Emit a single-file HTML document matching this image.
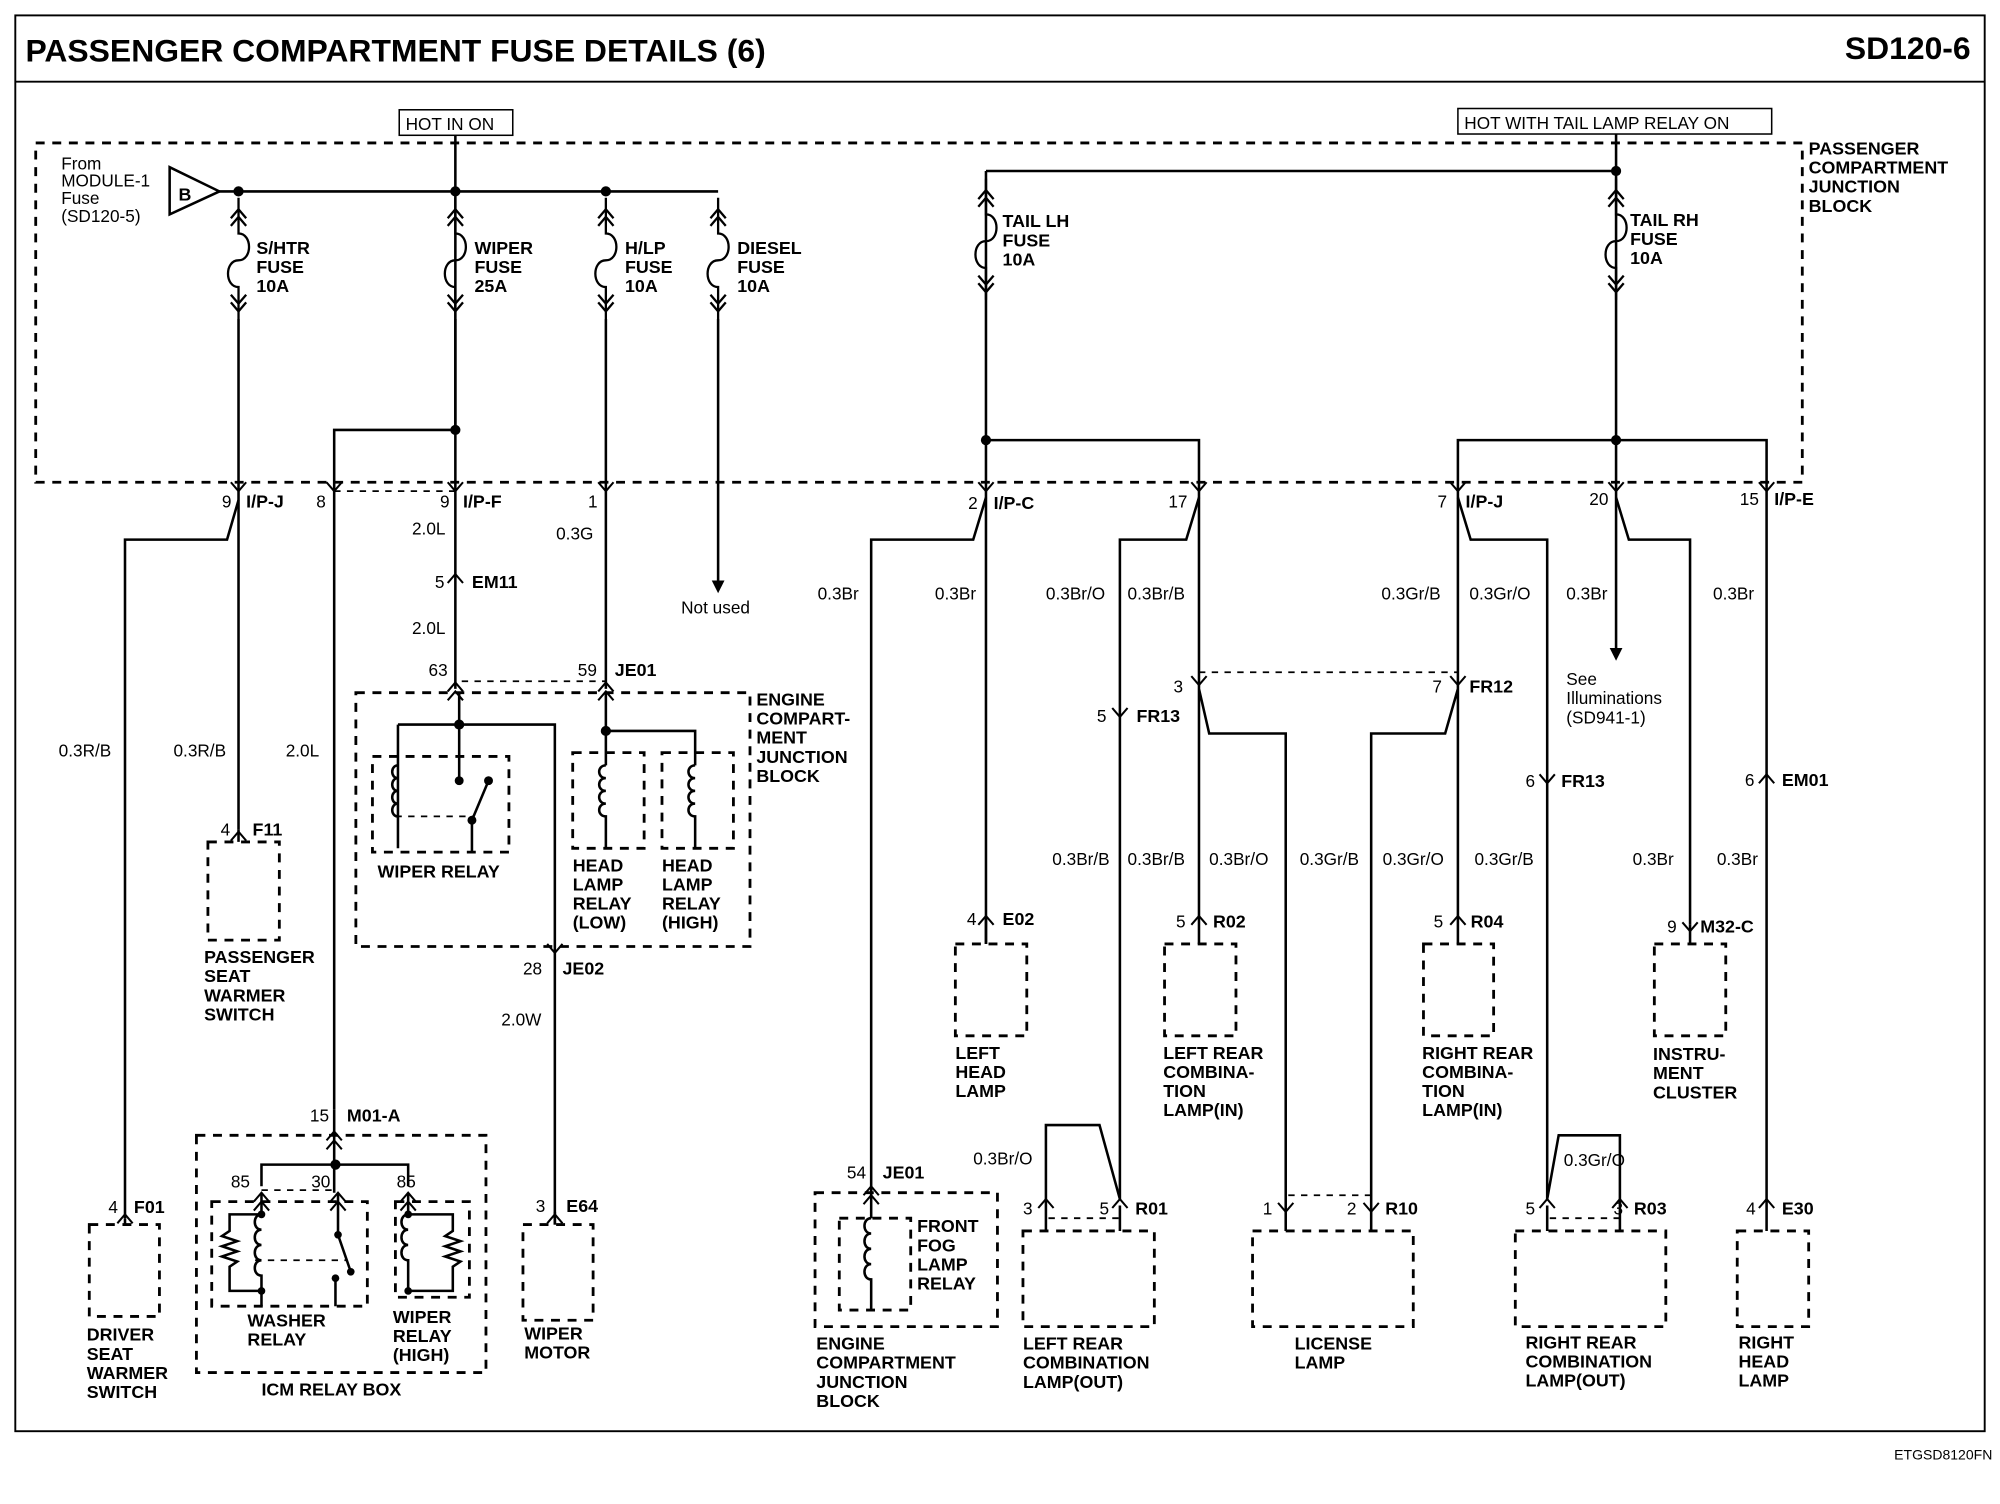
<!DOCTYPE html>
<html><head><meta charset="utf-8"><style>
html,body{margin:0;padding:0;background:#fff}
svg{display:block}
text{font-family:"Liberation Sans",Arial,sans-serif;fill:#000}
.b{font-weight:bold;font-size:14px}
.n{font-size:13.5px}
.t{font-weight:bold;font-size:25px}
</style></head><body>
<svg width="2000" height="1504" viewBox="0 0 1568 1179" xmlns="http://www.w3.org/2000/svg">
<defs>
<path id="cd" d="M-6,-7 L0,0 L6,-7" fill="none" stroke="#000" stroke-width="1.6"/>
<path id="cu" d="M-6,7 L0,0 L6,7" fill="none" stroke="#000" stroke-width="1.6"/>
<g id="fuse" fill="none" stroke="#000" stroke-width="1.8">
<path d="M0,0 V28 C11,28 11,49 0,49 C-11,49 -11,70 0,70 V95"/>
<path d="M-6,16 L0,9 L6,16 M-6,22 L0,15 L6,22 M-6,76 L0,83 L6,76 M-6,82 L0,89 L6,82"/>
</g>
</defs>
<rect width="1568" height="1179" fill="#fff"/>
<rect x="12" y="12" width="1544" height="1110" fill="none" stroke="#000" stroke-width="1.5"/>
<line x1="12" y1="64" x2="1556" y2="64" stroke="#000" stroke-width="1.5"/>
<text x="20" y="48" class="t">PASSENGER COMPARTMENT FUSE DETAILS (6)</text>
<text x="1545" y="46" class="t" text-anchor="end">SD120-6</text>
<text x="1562" y="1144" font-size="11" text-anchor="end">ETGSD8120FN</text>

<g fill="none" stroke="#000" stroke-width="2.2" stroke-dasharray="7,6">
<rect x="28" y="112" width="1385" height="266"/>
<rect x="279" y="543" width="309" height="199"/>
<rect x="292" y="593" width="107" height="75"/>
<rect x="449" y="590" width="56" height="75"/>
<rect x="519" y="590" width="56" height="75"/>
<rect x="163" y="660" width="56" height="77"/>
<rect x="70" y="960" width="55" height="72"/>
<rect x="410" y="960" width="55" height="75"/>
<rect x="154" y="890" width="227" height="186"/>
<rect x="166" y="942" width="122" height="82"/>
<rect x="310" y="942" width="58" height="75"/>
<rect x="749" y="740" width="56" height="72"/>
<rect x="913" y="740" width="56" height="72"/>
<rect x="1116" y="740" width="55" height="72"/>
<rect x="1297" y="740" width="56" height="72"/>
<rect x="639" y="935" width="143" height="105"/>
<rect x="658" y="955" width="56" height="72"/>
<rect x="802" y="965" width="103" height="75"/>
<rect x="982" y="965" width="126" height="75"/>
<rect x="1188" y="965" width="118" height="75"/>
<rect x="1362" y="965" width="56" height="75"/>
</g>
<g fill="none" stroke="#000" stroke-width="1.4" stroke-dasharray="5,5">
<line x1="362" y1="534" x2="475" y2="534"/>
<line x1="940" y1="527" x2="1143" y2="527"/>
<line x1="822" y1="955" x2="878" y2="955"/>
<line x1="1010" y1="937" x2="1075" y2="937"/>
<line x1="1215" y1="955" x2="1270" y2="955"/>
<line x1="205" y1="933" x2="265" y2="933"/>
<line x1="200" y1="988" x2="272" y2="988"/>
<line x1="310" y1="640" x2="372" y2="640"/>
<line x1="262" y1="385" x2="357" y2="385"/>
</g>

<rect x="313" y="86" width="89" height="20" fill="none" stroke="#000" stroke-width="1.2"/>
<text x="318" y="102" class="n" font-size="14">HOT IN ON</text>
<rect x="1143" y="85" width="246" height="20" fill="none" stroke="#000" stroke-width="1.2"/>
<text x="1148" y="101" class="n" font-size="14">HOT WITH TAIL LAMP RELAY ON</text>

<g fill="none" stroke="#000" stroke-width="2">
<polygon points="133,131 133,168 172,150" stroke-width="2"/>
<path d="M172,150 H563"/>
<path d="M357,106 V540"/>
<path d="M187,250 V650"/>
<path d="M187,392 L178,423 H98 V955"/>
<path d="M357,337 H262 V870"/>
<path d="M475,250 V540"/>
<path d="M563,250 V455"/>
<path d="M357,250 V337"/>
<path d="M360,543 V568 M312,568 H435 V960 M312,568 V665 M360,568 V610"/>
<path d="M312,600 c-6,0 -6,10 0,10 c-6,0 -6,10 0,10 c-6,0 -6,10 0,10 c-6,0 -6,10 0,10" />
<path d="M370,643 L383,612 M370,643 V668"/>
<path d="M475,543 V573 H545 V590 M475,573 V600 M545,590 V600"/>
<path d="M475,600 c-7,0 -7,10 0,10 c-7,0 -7,10 0,10 c-7,0 -7,10 0,10 c-7,0 -7,10 0,10 V665"/>
<path d="M545,600 c-7,0 -7,10 0,10 c-7,0 -7,10 0,10 c-7,0 -7,10 0,10 c-7,0 -7,10 0,10 V665"/>
<path d="M262,870 V913 H205 V930 M262,913 H320 V930 M262,913 V935"/>
<path d="M205,935 V952 M205,952 c-7,0 -7,12 0,12 c-7,0 -7,12 0,12 c-7,0 -7,12 0,12 c-7,0 -7,12 0,12 V1024 M205,952 H180 V965 l-6,4 12,4 -12,4 12,4 -12,4 12,4 -6,4 V1012 H205"/>
<path d="M265,935 V968 L275,997 M263,1002 V1024"/>
<path d="M320,935 V952 M320,952 c-7,0 -7,12 0,12 c-7,0 -7,12 0,12 c-7,0 -7,12 0,12 V1012 M320,952 H355 V965 l-6,4 12,4 -12,4 12,4 -12,4 12,4 -6,4 V1012 H320"/>
<path d="M773,134 H1267 M1267,105 V510 M773,134 V740"/>
<path d="M773,345 H940 V390 M1143,390 V345 H1385 V390"/>
<path d="M773,390 L763,423 H683 V930"/>
<path d="M940,390 L930,423 H878 V940"/>
<path d="M940,390 V720 M940,540 L948,575 H1008 V945"/>
<path d="M1143,390 V720 M1143,540 L1133,575 H1075 V945"/>
<path d="M1143,390 L1153,423 H1213 V940"/>
<path d="M1267,390 L1277,423 H1325 V725"/>
<path d="M1385,390 V945"/>
<path d="M820,945 V882 H862 L878,940"/>
<path d="M1270,945 V890 H1222 L1213,940"/>
<path d="M820,945 V965 M878,945 V965 M1008,945 V965 M1075,945 V965 M1213,945 V965 M1270,945 V965 M683,930 V955 M98,955 V960 M187,650 V660 M773,720 V740 M940,720 V740 M1143,720 V740 M1325,725 V740 M1385,945 V965 M435,950 V960"/>
<path d="M683,955 c-7,0 -7,12 0,12 c-7,0 -7,12 0,12 c-7,0 -7,12 0,12 c-7,0 -7,12 0,12 V1027"/>
</g>
<polygon points="558,455 568,455 563,465" fill="#000"/>
<polygon points="1262,508 1272,508 1267,518" fill="#000"/>
<g fill="#000">
<circle cx="187" cy="150" r="4"/><circle cx="357" cy="150" r="4"/><circle cx="475" cy="150" r="4"/>
<circle cx="357" cy="337" r="4"/><circle cx="360" cy="568" r="4"/><circle cx="475" cy="573" r="4"/>
<circle cx="360" cy="612" r="3.5"/><circle cx="383" cy="612" r="3.5"/><circle cx="370" cy="643" r="3.5"/>
<circle cx="263" cy="913" r="4"/><circle cx="265" cy="968" r="3"/><circle cx="275" cy="997" r="3"/><circle cx="263" cy="1002" r="3"/>
<circle cx="205" cy="952" r="3"/><circle cx="205" cy="1012" r="3"/><circle cx="320" cy="952" r="3"/><circle cx="320" cy="1012" r="3"/>
<circle cx="1267" cy="134" r="4"/><circle cx="773" cy="345" r="4"/><circle cx="1267" cy="345" r="4"/>
</g>
<use href="#fuse" x="187" y="155"/><use href="#fuse" x="357" y="155"/>
<use href="#fuse" x="475" y="155"/><use href="#fuse" x="563" y="155"/>
<use href="#fuse" x="773" y="140"/><use href="#fuse" x="1267" y="140"/>
<use href="#cd" x="187" y="385"/><use href="#cd" x="262" y="385"/><use href="#cd" x="357" y="385"/>
<use href="#cd" x="475" y="385"/><use href="#cd" x="773" y="385"/><use href="#cd" x="940" y="385"/>
<use href="#cd" x="1143" y="385"/><use href="#cd" x="1267" y="385"/><use href="#cd" x="1385" y="385"/>
<use href="#cu" x="357" y="450"/><use href="#cu" x="357" y="535"/><use href="#cu" x="357" y="542"/>
<use href="#cu" x="475" y="535"/><use href="#cu" x="475" y="542"/>
<use href="#cu" x="187" y="652"/><use href="#cu" x="98" y="952"/><use href="#cd" x="435" y="747"/>
<use href="#cu" x="435" y="952"/><use href="#cu" x="262" y="887"/><use href="#cu" x="262" y="894"/>
<use href="#cu" x="205" y="935"/><use href="#cu" x="205" y="942"/><use href="#cu" x="265" y="935"/><use href="#cu" x="265" y="942"/>
<use href="#cu" x="320" y="935"/><use href="#cu" x="320" y="942"/>
<use href="#cd" x="940" y="537"/><use href="#cd" x="1143" y="537"/><use href="#cd" x="878" y="562"/><use href="#cd" x="1213" y="614"/>
<use href="#cu" x="1385" y="607"/><use href="#cu" x="773" y="718"/><use href="#cu" x="940" y="718"/><use href="#cu" x="1143" y="718"/>
<use href="#cd" x="1325" y="730"/><use href="#cu" x="683" y="930"/><use href="#cu" x="683" y="937"/>
<use href="#cu" x="820" y="940"/><use href="#cu" x="878" y="940"/><use href="#cd" x="1008" y="950"/><use href="#cd" x="1075" y="950"/>
<use href="#cu" x="1213" y="940"/><use href="#cu" x="1270" y="940"/><use href="#cu" x="1385" y="940"/>

<text x="140" y="157" font-weight="bold" font-size="14">B</text>
<g class="n" font-size="13"><text x="48" y="133">From</text><text x="48" y="146">MODULE-1</text><text x="48" y="160">Fuse</text><text x="48" y="174">(SD120-5)</text></g>
<g class="b">
<text x="201" y="199">S/HTR</text><text x="201" y="214">FUSE</text><text x="201" y="229">10A</text>
<text x="372" y="199">WIPER</text><text x="372" y="214">FUSE</text><text x="372" y="229">25A</text>
<text x="490" y="199">H/LP</text><text x="490" y="214">FUSE</text><text x="490" y="229">10A</text>
<text x="578" y="199">DIESEL</text><text x="578" y="214">FUSE</text><text x="578" y="229">10A</text>
<text x="786" y="178">TAIL LH</text><text x="786" y="193">FUSE</text><text x="786" y="208">10A</text>
<text x="1278" y="177">TAIL RH</text><text x="1278" y="192">FUSE</text><text x="1278" y="207">10A</text>
<text x="1418" y="121">PASSENGER</text><text x="1418" y="136">COMPARTMENT</text><text x="1418" y="151">JUNCTION</text><text x="1418" y="166">BLOCK</text>
<text x="193" y="398">I/P-J</text><text x="363" y="398">I/P-F</text><text x="779" y="399">I/P-C</text><text x="1149" y="398">I/P-J</text><text x="1391" y="396">I/P-E</text>
<text x="370" y="461">EM11</text><text x="482" y="530">JE01</text>
<text x="593" y="553">ENGINE</text><text x="593" y="568">COMPART-</text><text x="593" y="583">MENT</text><text x="593" y="598">JUNCTION</text><text x="593" y="613">BLOCK</text>
<text x="296" y="688">WIPER RELAY</text>
<text x="449" y="683">HEAD</text><text x="449" y="698">LAMP</text><text x="449" y="713">RELAY</text><text x="449" y="728">(LOW)</text>
<text x="519" y="683">HEAD</text><text x="519" y="698">LAMP</text><text x="519" y="713">RELAY</text><text x="519" y="728">(HIGH)</text>
<text x="198" y="655">F11</text>
<text x="160" y="755">PASSENGER</text><text x="160" y="770">SEAT</text><text x="160" y="785">WARMER</text><text x="160" y="800">SWITCH</text>
<text x="441" y="764">JE02</text><text x="272" y="879">M01-A</text>
<text x="105" y="951">F01</text>
<text x="68" y="1051">DRIVER</text><text x="68" y="1066">SEAT</text><text x="68" y="1081">WARMER</text><text x="68" y="1096">SWITCH</text>
<text x="194" y="1040">WASHER</text><text x="194" y="1055">RELAY</text>
<text x="308" y="1037">WIPER</text><text x="308" y="1052">RELAY</text><text x="308" y="1067">(HIGH)</text>
<text x="205" y="1094">ICM RELAY BOX</text>
<text x="444" y="950">E64</text>
<text x="411" y="1050">WIPER</text><text x="411" y="1065">MOTOR</text>
<text x="891" y="566">FR13</text><text x="1152" y="543">FR12</text><text x="1224" y="617">FR13</text><text x="1397" y="616">EM01</text>
<text x="786" y="725">E02</text><text x="951" y="727">R02</text><text x="1153" y="727">R04</text><text x="1333" y="731">M32-C</text>
<text x="749" y="830">LEFT</text><text x="749" y="845">HEAD</text><text x="749" y="860">LAMP</text>
<text x="912" y="830">LEFT REAR</text><text x="912" y="845">COMBINA-</text><text x="912" y="860">TION</text><text x="912" y="875">LAMP(IN)</text>
<text x="1115" y="830">RIGHT REAR</text><text x="1115" y="845">COMBINA-</text><text x="1115" y="860">TION</text><text x="1115" y="875">LAMP(IN)</text>
<text x="1296" y="831">INSTRU-</text><text x="1296" y="846">MENT</text><text x="1296" y="861">CLUSTER</text>
<text x="692" y="924">JE01</text>
<text x="719" y="966">FRONT</text><text x="719" y="981">FOG</text><text x="719" y="996">LAMP</text><text x="719" y="1011">RELAY</text>
<text x="640" y="1058">ENGINE</text><text x="640" y="1073">COMPARTMENT</text><text x="640" y="1088">JUNCTION</text><text x="640" y="1103">BLOCK</text>
<text x="890" y="952">R01</text><text x="1086" y="952">R10</text><text x="1281" y="952">R03</text><text x="1397" y="952">E30</text>
<text x="802" y="1058">LEFT REAR</text><text x="802" y="1073">COMBINATION</text><text x="802" y="1088">LAMP(OUT)</text>
<text x="1015" y="1058">LICENSE</text><text x="1015" y="1073">LAMP</text>
<text x="1196" y="1057">RIGHT REAR</text><text x="1196" y="1072">COMBINATION</text><text x="1196" y="1087">LAMP(OUT)</text>
<text x="1363" y="1057">RIGHT</text><text x="1363" y="1072">HEAD</text><text x="1363" y="1087">LAMP</text>
</g>
<g class="n">
<text x="174" y="398">9</text><text x="248" y="398">8</text><text x="345" y="398">9</text><text x="461" y="398">1</text>
<text x="759" y="399">2</text><text x="916" y="398">17</text><text x="1127" y="398">7</text><text x="1246" y="396">20</text><text x="1364" y="396">15</text>
<text x="323" y="419">2.0L</text><text x="436" y="423">0.3G</text><text x="341" y="461">5</text><text x="323" y="497">2.0L</text>
<text x="336" y="530">63</text><text x="453" y="530">59</text>
<text x="534" y="481">Not used</text>
<text x="46" y="593">0.3R/B</text><text x="136" y="593">0.3R/B</text><text x="224" y="593">2.0L</text>
<text x="173" y="655">4</text><text x="410" y="764">28</text><text x="393" y="804">2.0W</text>
<text x="243" y="879">15</text><text x="85" y="951">4</text><text x="420" y="950">3</text>
<text x="181" y="931">85</text><text x="244" y="931">30</text><text x="311" y="931">85</text>
<text x="641" y="470">0.3Br</text><text x="733" y="470">0.3Br</text><text x="820" y="470">0.3Br/O</text><text x="884" y="470">0.3Br/B</text>
<text x="1083" y="470">0.3Gr/B</text><text x="1152" y="470">0.3Gr/O</text><text x="1228" y="470">0.3Br</text><text x="1343" y="470">0.3Br</text>
<text x="920" y="543">3</text><text x="1123" y="543">7</text><text x="860" y="566">5</text><text x="1196" y="617">6</text><text x="1368" y="616">6</text>
<text x="1228" y="537">See</text><text x="1228" y="552">Illuminations</text><text x="1228" y="567">(SD941-1)</text>
<text x="825" y="678">0.3Br/B</text><text x="884" y="678">0.3Br/B</text><text x="948" y="678">0.3Br/O</text><text x="1019" y="678">0.3Gr/B</text>
<text x="1084" y="678">0.3Gr/O</text><text x="1156" y="678">0.3Gr/B</text><text x="1280" y="678">0.3Br</text><text x="1346" y="678">0.3Br</text>
<text x="758" y="725">4</text><text x="922" y="727">5</text><text x="1124" y="727">5</text><text x="1307" y="731">9</text>
<text x="664" y="924">54</text><text x="763" y="913">0.3Br/O</text><text x="1226" y="914">0.3Gr/O</text>
<text x="802" y="952">3</text><text x="862" y="952">5</text><text x="990" y="952">1</text><text x="1056" y="952">2</text>
<text x="1196" y="952">5</text><text x="1265" y="952">3</text><text x="1369" y="952">4</text>
</g>
</svg>
</body></html>
